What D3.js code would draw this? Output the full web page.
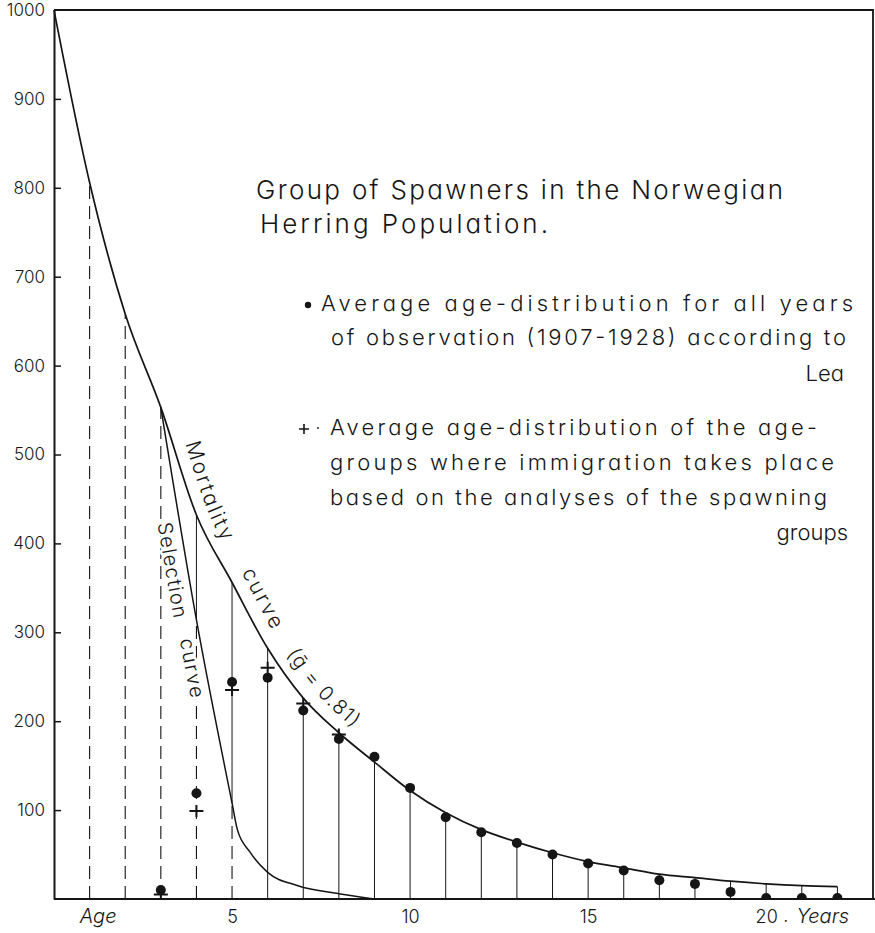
<!DOCTYPE html>
<html>
<head>
<meta charset="utf-8">
<script src="https://cdn.jsdelivr.net/npm/d3@7"></script>
<style>
    html, body { margin: 0; padding: 0; background: #fff; }
    svg { display: block; }
    text {
        font-family: "Inter", "DejaVu Sans", sans-serif;
        font-weight: 300;
        font-feature-settings: "cv11";
        fill: #151515;
    }
</style>
</head>
<body>
<script>
// Mortality curve at each year of age
const ages = [ 0, 1, 2, 3, 4, 5, 6, 7, 8, 9, 10, 11, 12, 13, 14, 15, 16, 17, 18, 19, 20, 21, 22 ];
const mortality = [ 1000, 806, 658, 553, 432, 356, 282, 226, 187, 154, 122, 97, 78, 64, 52, 42, 35, 28, 24, 20, 17, 15, 14 ];

// Selection curve
const selectionAges = [ 3, 4, 5, 5.15, 5.5, 6, 6.85, 8, 9 ];
const selectionValues = [ 553, 314, 108, 78, 53, 30, 15, 6, 0 ];

// Lea, average age-distribution 1907-1928 (dots)
const leaAges = [ 3, 4, 5, 6, 7, 8, 9, 10, 11, 12, 13, 14, 15, 16, 17, 18, 19, 20, 21, 22 ];
const leaValues = [ 10, 119, 244, 249, 212, 180, 160, 125, 92, 75, 63, 50, 40, 32, 21, 17, 8, 1, 1, 1 ];

// age-groups where immigration takes place (crosses)
const crossAges = [ 3, 4, 5, 6, 7, 8 ];
const crossValues = [ 5, 99, 235, 260, 220, 185 ];

// vertical ordinates
const dashedAges = [ 1, 2, 3, 4, 5 ];
const solidAges = [ 4, 5, 6, 7, 8, 9, 10, 11, 12, 13, 14, 15, 16, 17, 18, 19, 20, 21, 22 ];

const yTicks = [ 100, 200, 300, 400, 500, 600, 700, 800, 900, 1000 ];
const xTicks = [ 5, 10, 15, 20 ];

const W = 875, H = 933;
const x = d3.scaleLinear().domain([ 0, 23 ]).range([ 54, 873 ]);
const y = d3.scaleLinear().domain([ 0, 1000 ]).range([ 899, 10 ]);

const svg = d3.select("body").append("svg")
    .attr("width", W)
    .attr("height", H);

const ink = "#151515";

// helpers
const mortAt = a => mortality[ ages.indexOf(a) ];
const selAt = a => {
    const i = selectionAges.indexOf(a);
    return i < 0 ? null : selectionValues[ i ];
};

// clip for dots sitting on the base line
svg.append("clipPath").attr("id", "plotClip")
    .append("rect")
    .attr("x", x(0)).attr("y", 0)
    .attr("width", x(23) - x(0)).attr("height", y(0));

// frame
svg.append("path")
    .attr("d", `M${x(0)},${y(1000)}H${x(23)}V${y(0)}`)
    .attr("fill", "none")
    .attr("stroke", ink)
    .attr("stroke-width", 1.8);

// y axis
const yAxis = d3.axisLeft(y)
    .tickValues(yTicks)
    .tickSizeInner(-7)
    .tickSizeOuter(0)
    .tickPadding(9)
    .tickFormat(d3.format("d"));

const gy = svg.append("g")
    .attr("transform", `translate(${x(0)},0)`)
    .call(yAxis);
gy.select(".domain").attr("stroke", ink).attr("stroke-width", 2);
gy.selectAll(".tick line").attr("stroke", ink).attr("stroke-width", 1.5)
    .filter(d => d === 1000).remove();
gy.selectAll(".tick text")
    .attr("font-size", 17)
    .attr("font-family", null)
    .attr("fill", ink);

// x axis
const xAxis = d3.axisBottom(x)
    .tickValues(xTicks)
    .tickSize(0)
    .tickPadding(11)
    .tickFormat(d3.format("d"));

const gx = svg.append("g")
    .attr("transform", `translate(0,${y(0)})`)
    .call(xAxis);
gx.select(".domain").attr("d", `M${x(0)},0H${W}`).attr("stroke", ink).attr("stroke-width", 2);
gx.selectAll(".tick text")
    .attr("font-size", 18)
    .attr("font-family", null)
    .attr("fill", ink);

svg.append("text")
    .attr("x", x(1.24)).attr("y", 923)
    .attr("text-anchor", "middle")
    .attr("font-size", 20)
    .attr("font-style", "italic")
    .text("Age");

svg.append("text")
    .attr("x", x(20.55)).attr("y", 922)
    .attr("text-anchor", "middle")
    .attr("font-size", 18)
    .text(".");

svg.append("text")
    .attr("x", x(20.85)).attr("y", 923)
    .attr("font-size", 20)
    .attr("font-style", "italic")
    .text("Years");

// dashed ordinates: up to the mortality curve (ages 1-3), up to the selection curve (4-5)
svg.append("g").selectAll("line")
    .data(dashedAges)
    .join("line")
    .attr("x1", d => x(d)).attr("x2", d => x(d))
    .attr("y1", y(0))
    .attr("y2", d => y(d <= 3 ? mortAt(d) : selAt(d)))
    .attr("stroke", ink)
    .attr("stroke-width", 1.1)
    .attr("stroke-dasharray", "13,7");

// solid ordinates
svg.append("g").selectAll("line")
    .data(solidAges)
    .join("line")
    .attr("x1", d => x(d)).attr("x2", d => x(d))
    .attr("y1", d => y(selAt(d) !== null && d <= 5 ? selAt(d) : 0))
    .attr("y2", d => y(mortAt(d)))
    .attr("stroke", ink)
    .attr("stroke-width", 1);

// curves
const line = d3.line()
    .x(d => x(d[ 0 ]))
    .y(d => y(d[ 1 ]))
    .curve(d3.curveMonotoneX);

const mortPath = svg.append("path")
    .datum(ages.map((a, i) => [ a, mortality[ i ] ]))
    .attr("d", line)
    .attr("fill", "none")
    .attr("stroke", ink)
    .attr("stroke-width", 1.7);

const selPath = svg.append("path")
    .datum(selectionAges.map((a, i) => [ a, selectionValues[ i ] ]))
    .attr("d", line)
    .attr("fill", "none")
    .attr("stroke", ink)
    .attr("stroke-width", 1.5);

// labels that follow a curve at a given normal distance
function offsetSamples(node, dist) {
    const L = node.getTotalLength();
    const pts = [];
    for (let s = 0; s <= L; s += 2) {
        const p = node.getPointAtLength(s);
        const q = node.getPointAtLength(Math.min(L, s + 1.5));
        const r = node.getPointAtLength(Math.max(0, s - 1.5));
        const dx = q.x - r.x, dy = q.y - r.y;
        const n = Math.hypot(dx, dy) || 1;
        pts.push({ x: p.x + dist * dy / n, y: p.y - dist * dx / n, cx: p.x });
    }
    return pts;
}

const defs = svg.append("defs");
let labelId = 0;

function curveLabel(node, dist, startAge, str, size, spacing, halo) {
    const pts = offsetSamples(node, dist).filter(p => p.cx >= x(startAge));
    const id = "lbl" + (labelId++);
    defs.append("path")
        .attr("id", id)
        .attr("d", d3.line().x(p => p.x).y(p => p.y).curve(d3.curveBasis)(pts));
    const t = svg.append("text")
        .attr("font-size", size)
        .attr("letter-spacing", spacing);
    if (halo) {
        t.attr("stroke", "#fff").attr("stroke-width", 5)
            .attr("paint-order", "stroke").attr("stroke-linejoin", "round");
    }
    t.append("textPath")
        .attr("href", "#" + id)
        .text(str);
}

curveLabel(mortPath.node(), 12, 3.36, "Mortality", 21, 2.4, false);
curveLabel(mortPath.node(), 13, 4.92, "curve", 21, 2.4, false);
curveLabel(mortPath.node(), 13, 6.22, "(ḡ = 0.81)", 20, 1.4, false);
curveLabel(selPath.node(), -22, 3.51, "Selection", 20, 1.3, true);
curveLabel(selPath.node(), -20, 4.08, "curve", 20, 1.8, true);

// data marks
const marks = svg.append("g").attr("clip-path", "url(#plotClip)");

marks.selectAll("circle")
    .data(leaAges.map((a, i) => [ a, leaValues[ i ] ]))
    .join("circle")
    .attr("cx", d => x(d[ 0 ]))
    .attr("cy", d => y(d[ 1 ]))
    .attr("r", 5)
    .attr("fill", ink);

marks.selectAll("path.cross")
    .data(crossAges.map((a, i) => [ a, crossValues[ i ] ]))
    .join("path")
    .attr("class", "cross")
    .attr("d", d => {
        const cx = x(d[ 0 ]), cy = y(d[ 1 ]);
        return `M${cx - 7},${cy}H${cx + 7}M${cx},${cy - 6}V${cy + 6}`;
    })
    .attr("stroke", ink)
    .attr("stroke-width", 2);

// title
const title = [
    { text: "Group of Spawners in the Norwegian", x: 256, y: 199, len: 527 },
    { text: "Herring Population.", x: 260, y: 233, len: 288 }
];
svg.selectAll("text.title")
    .data(title)
    .join("text")
    .attr("class", "title")
    .attr("x", d => d.x).attr("y", d => d.y)
    .attr("font-size", 26)
    .attr("textLength", d => d.len)
    .attr("lengthAdjust", "spacing")
    .text(d => d.text);

// legend
const legendLines = [
    { text: "Average age-distribution for all years", x: 321, y: 311, len: 532 },
    { text: "of observation (1907-1928) according to", x: 331, y: 345, len: 515 },
    { text: "Lea", x: 844, y: 381, anchor: "end" },
    { text: "Average age-distribution of the age-", x: 330, y: 435, len: 487 },
    { text: "groups where immigration takes place", x: 330, y: 470, len: 504 },
    { text: "based on the analyses of the spawning", x: 330, y: 505, len: 497 },
    { text: "groups", x: 848, y: 540, anchor: "end" }
];
svg.selectAll("text.legend")
    .data(legendLines)
    .join("text")
    .attr("class", "legend")
    .attr("x", d => d.x).attr("y", d => d.y)
    .attr("font-size", 22)
    .attr("text-anchor", d => d.anchor || "start")
    .attr("textLength", d => d.len || null)
    .attr("lengthAdjust", "spacing")
    .text(d => d.text);

svg.append("circle")
    .attr("cx", 308).attr("cy", 305).attr("r", 3.2)
    .attr("fill", ink);

svg.append("path")
    .attr("d", "M299,429H309M304,424V434")
    .attr("stroke", ink)
    .attr("stroke-width", 1.6);
svg.append("circle")
    .attr("cx", 318).attr("cy", 428).attr("r", 0.9)
    .attr("fill", ink);
</script>
</body>
</html>
